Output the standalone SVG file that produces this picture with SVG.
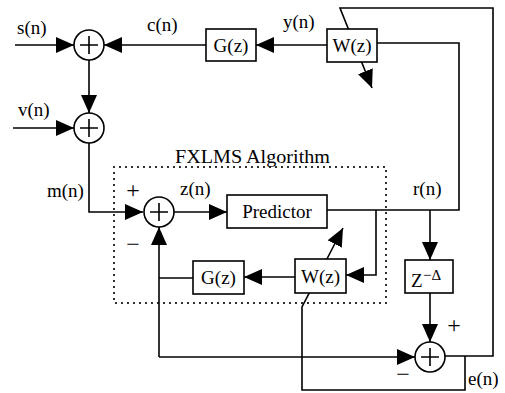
<svg xmlns="http://www.w3.org/2000/svg" width="505" height="393" viewBox="0 0 505 393">
  <style>
    .ln { fill: none; stroke: #000; stroke-width: 1.6; stroke-linejoin: miter; }
    .arr { marker-end: url(#head); }
    .box { fill: #fff; stroke: #000; stroke-width: 1.6; }
    .sum { fill: #fff; stroke: #000; stroke-width: 1.6; }
    .cross { stroke: #000; stroke-width: 1.6; fill: none; }
    .dots { fill: none; stroke: #000; stroke-width: 2.2; stroke-linecap: round; stroke-dasharray: 0 6; }
    .lbl { font-size: 19px; }
    .sign { font-size: 24px; text-anchor: middle; }
    .mid { text-anchor: middle; }
  </style>
  <defs>
    <marker id="head" markerUnits="userSpaceOnUse" markerWidth="18" markerHeight="16" refX="18" refY="8" orient="auto">
      <path d="M0,0 L18,8 L0,16 Z" fill="#000"/>
    </marker>
  </defs>

  <rect width="505" height="393" fill="#fff"/>

  <!-- signal paths -->
  <g id="connectors">
    <path class="ln arr" d="M15,45 H74"/>
    <path class="ln arr" d="M206,45 H104"/>
    <path class="ln arr" d="M89,60 V113"/>
    <path class="ln arr" d="M13,128 H74"/>
    <path class="ln arr" d="M89,143 V212 H143"/>
    <path class="ln arr" d="M174,212 H227"/>
    <path class="ln arr" d="M327,45 H256"/>
    <path class="ln" d="M377,43 H459 V210 H327"/>
    <path class="ln arr" d="M430,210 V260"/>
    <path class="ln arr" d="M376,210 V275 H346"/>
    <path class="ln arr" d="M295,277 H244"/>
    <path class="ln" d="M193,278 H159"/>
    <path class="ln arr" d="M159,357 V227"/>
    <path class="ln arr" d="M159,357 H415"/>
    <path class="ln arr" d="M430,293 V342"/>
    <path class="ln arr" d="M445,356 H493 V8 H340 L372,88"/>
    <path class="ln arr" d="M465,356 V390 H302 V307 L343,228"/>
  </g>

  <g font-family="'Liberation Serif', 'DejaVu Serif', serif" fill="#000">
    <!-- FXLMS algorithm boundary -->
    <g id="fxlms">
      <rect class="dots" x="114" y="167" width="272" height="136"/>
      <text class="lbl" x="175" y="163" textLength="155" lengthAdjust="spacingAndGlyphs">FXLMS Algorithm</text>
    </g>

    <g id="sum1">
      <circle class="sum" cx="89" cy="45" r="15"/>
      <path class="cross" d="M80,45 H98 M89,36 V54"/>
    </g>
    <g id="sum2">
      <circle class="sum" cx="89" cy="128" r="15"/>
      <path class="cross" d="M80,128 H98 M89,119 V137"/>
    </g>
    <g id="sum3">
      <circle class="sum" cx="159" cy="212" r="15"/>
      <path class="cross" d="M150,212 H168 M159,203 V221"/>
    </g>
    <g id="sum4">
      <circle class="sum" cx="430" cy="357" r="15"/>
      <path class="cross" d="M421,357 H439 M430,348 V366"/>
    </g>

    <g id="g-top">
      <rect class="box" x="206" y="29" width="50" height="32"/>
      <text class="lbl mid" x="231" y="52">G(z)</text>
    </g>
    <g id="w-top">
      <rect class="box" x="327" y="29" width="50" height="33"/>
      <text class="lbl mid" x="352" y="52">W(z)</text>
    </g>
    <g id="predictor">
      <rect class="box" x="227" y="195" width="100" height="33"/>
      <text class="lbl mid" x="277" y="218">Predictor</text>
    </g>
    <g id="g-low">
      <rect class="box" x="193" y="261" width="51" height="33"/>
      <text class="lbl mid" x="218.5" y="284">G(z)</text>
    </g>
    <g id="w-low">
      <rect class="box" x="295" y="259" width="51" height="34"/>
      <text class="lbl mid" x="320.5" y="283">W(z)</text>
    </g>
    <g id="delay">
      <rect class="box" x="405" y="260" width="48" height="33"/>
      <text class="lbl" x="411" y="287">Z</text>
      <text x="423" y="280" font-size="15">−Δ</text>
    </g>

    <!-- signal labels -->
    <g id="labels">
      <text class="lbl" x="17" y="34">s(n)</text>
      <text class="lbl" x="147" y="31">c(n)</text>
      <text class="lbl" x="283" y="28">y(n)</text>
      <text class="lbl" x="18" y="116">v(n)</text>
      <text class="lbl" x="47" y="197">m(n)</text>
      <text class="lbl" x="180" y="195">z(n)</text>
      <text class="lbl" x="413" y="195">r(n)</text>
      <text class="lbl" x="468" y="385">e(n)</text>
      <text class="sign" x="133" y="198">+</text>
      <text class="sign" x="133" y="252">−</text>
      <text class="sign" x="454" y="333">+</text>
      <text class="sign" x="403" y="382">−</text>
    </g>
  </g>
</svg>
